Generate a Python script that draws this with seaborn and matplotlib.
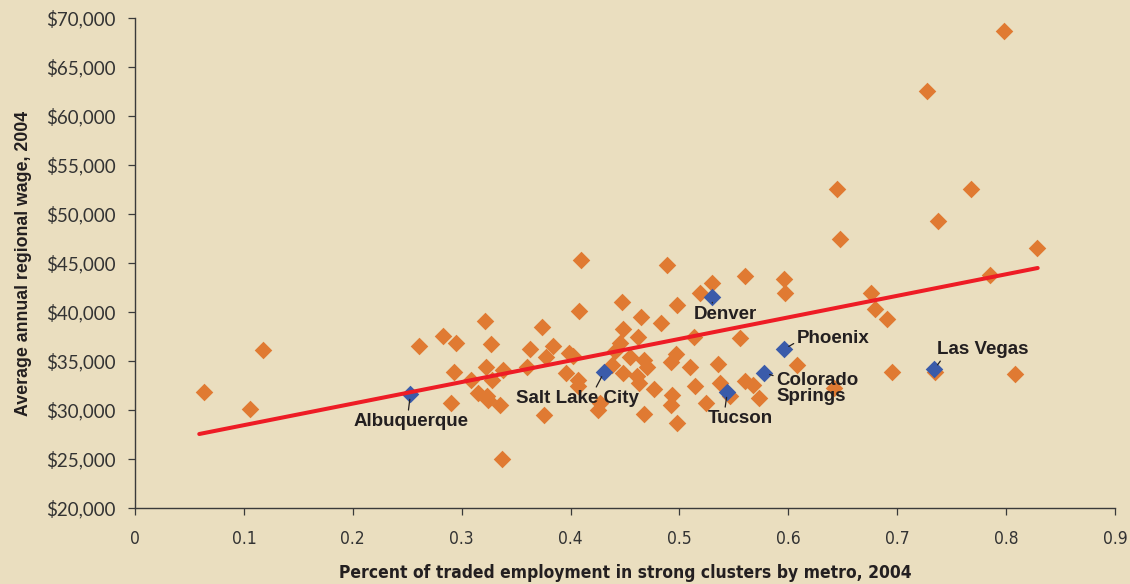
import matplotlib
matplotlib.use("Agg")
import matplotlib.pyplot as plt
import seaborn as sns
import pandas as pd
from matplotlib.ticker import FuncFormatter, MultipleLocator
import warnings

warnings.filterwarnings("ignore")

# metro points (orange)
metro_share = [0.063, 0.106, 0.118, 0.261, 0.283, 0.295, 0.293, 0.290, 0.410, 0.489,
               0.447, 0.408, 0.321, 0.498, 0.465, 0.483, 0.374, 0.327, 0.448, 0.462,
               0.445, 0.363, 0.384, 0.441, 0.455, 0.377, 0.399, 0.402, 0.467, 0.470,
               0.492, 0.497, 0.438, 0.360, 0.338, 0.322, 0.309, 0.328, 0.396, 0.407,
               0.407, 0.448, 0.461, 0.463, 0.477, 0.315, 0.323, 0.324, 0.335, 0.425,
               0.427, 0.376, 0.467, 0.493, 0.492, 0.498, 0.337, 0.647, 0.560, 0.596,
               0.597, 0.530, 0.519, 0.676, 0.680, 0.691, 0.556, 0.513, 0.510, 0.535,
               0.608, 0.514, 0.537, 0.560, 0.568, 0.573, 0.524, 0.546, 0.642, 0.695,
               0.798, 0.727, 0.645, 0.768, 0.737, 0.828, 0.785, 0.735, 0.808]
metro_wage = [31800, 30100, 36100, 36550, 37550, 36800, 33900, 30700, 45300, 44800,
              41000, 40100, 39100, 40700, 39500, 38900, 38450, 36700, 38300, 37400,
              36850, 36200, 36500, 36000, 35450, 35400, 35800, 35500, 35150, 34400,
              34900, 35700, 34600, 34400, 34100, 34400, 33050, 33050, 33800, 33050,
              32400, 33800, 33450, 32800, 32100, 31750, 31450, 31000, 30500, 30000,
              30700, 29500, 29600, 31500, 30500, 28700, 24950, 47450, 43700, 43350,
              41950, 43000, 41950, 41900, 40300, 39250, 37300, 37450, 34400, 34700,
              34600, 32400, 32800, 33000, 32550, 31200, 30750, 31450, 32200, 33850,
              68650, 62550, 52550, 52500, 49300, 46500, 43800, 33900, 33650]

# highlighted western metros (blue)
west_names = ["Albuquerque", "Salt Lake City", "Denver", "Phoenix",
              "Colorado\nSprings", "Tucson", "Las Vegas"]
west_share = [0.253, 0.431, 0.530, 0.596, 0.578, 0.544, 0.734]
west_wage = [31650, 33900, 41550, 36200, 33800, 31850, 34150]

# trend line end points
trend_share = [0.059, 0.829]
trend_wage = [27550, 44490]

BG = "#EADEBF"
ORANGE = "#E07A32"
BLUE = "#3A5BAA"
RED = "#EE1C25"
INK = "#231F20"

sns.set_style("ticks", {"axes.facecolor": BG, "figure.facecolor": BG})
plt.rcParams['font.family'] = ['Liberation Sans', 'DejaVu Sans']

fig = plt.figure(figsize=(11.3, 5.84), dpi=100)
ax = fig.add_axes([135 / 1130, 1 - 508 / 584, 980 / 1130, 490 / 584])

df_metro = pd.DataFrame({"share": metro_share, "wage": metro_wage})
df_west = pd.DataFrame({"share": west_share, "wage": west_wage, "name": west_names})
df_trend = pd.DataFrame({"share": trend_share, "wage": trend_wage})

sns.scatterplot(data=df_metro, x="share", y="wage", marker="D", s=80,
                color=ORANGE, linewidth=0, ax=ax, zorder=2)
sns.scatterplot(data=df_west, x="share", y="wage", marker="D", s=80,
                color=BLUE, linewidth=0, ax=ax, zorder=3)
sns.lineplot(data=df_trend, x="share", y="wage", color=RED, linewidth=2.9,
             ax=ax, zorder=4)

# label placement: (offset px, ha, relpos of leader on the text box)
label_style = {
    "Albuquerque": ((1, -28), "center", (0.47, 1.0)),
    "Salt Lake City": ((-27, -27), "center", (0.64, 1.0)),
    "Denver": ((13, -18), "center", (0.3, 1.0)),
    "Phoenix": ((13, 11), "left", (0.0, 0.3)),
    "Colorado\nSprings": ((12, -16), "left", (0.0, 0.87)),
    "Tucson": ((13, -27), "center", (0.26, 1.0)),
    "Las Vegas": ((3, 20), "left", (0.06, 0.0)),
}
for name, sx, wy in zip(west_names, west_share, west_wage):
    (dx, dy), ha, rel = label_style[name]
    ax.annotate(name, xy=(sx, wy), xytext=(dx * 0.72, dy * 0.72),
                textcoords="offset points", ha=ha, va="center",
                fontsize=13.5, fontweight="bold", color=INK,
                linespacing=0.9, zorder=5,
                arrowprops=dict(arrowstyle="-", color=INK, lw=0.9,
                                shrinkA=0, shrinkB=4, relpos=rel))

ax.set_xlim(0, 0.9)
ax.set_ylim(20000, 70000)
ax.xaxis.set_major_locator(MultipleLocator(0.1))
ax.yaxis.set_major_locator(MultipleLocator(5000))
ax.xaxis.set_major_formatter(FuncFormatter(lambda v, p: "0" if v == 0 else f"{v:.1f}"))
ax.yaxis.set_major_formatter(FuncFormatter(lambda v, p: f"${v:,.0f}"))

sns.despine(ax=ax)
for side in ["left", "bottom"]:
    ax.spines[side].set_color("#3a3a3a")
    ax.spines[side].set_linewidth(1.0)
ax.tick_params(axis="both", direction="out", length=5, width=0.9, color="#3a3a3a")
ax.tick_params(axis="y", pad=9)
ax.tick_params(axis="x", pad=11)
for t in ax.get_yticklabels():
    t.set_fontfamily(["Lato", "DejaVu Sans"])
    t.set_fontsize(13.5)
    t.set_color("#333333")
for t in ax.get_xticklabels():
    t.set_fontfamily(["DejaVu Sans"])
    t.set_fontstretch("condensed")
    t.set_fontsize(12.5)
    t.set_color("#333333")

ax.set_ylabel("Average annual regional wage, 2004", fontsize=12.8, fontweight="bold",
              color=INK, labelpad=10)
ax.set_xlabel("Percent of traded employment in strong clusters by metro, 2004",
              fontsize=12.5, fontweight="bold", fontstretch="condensed", color=INK,
              labelpad=11, family=["DejaVu Sans"])

fig.savefig("out.png", dpi=100, facecolor=BG)
